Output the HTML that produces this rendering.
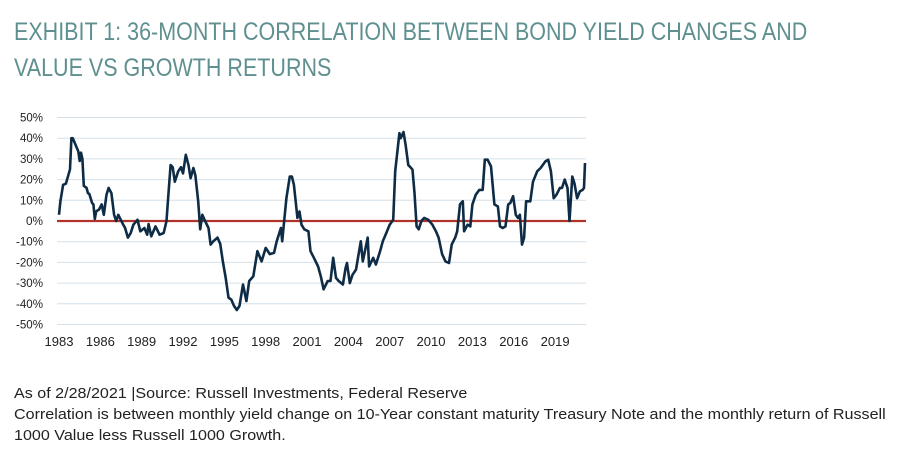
<!DOCTYPE html>
<html><head><meta charset="utf-8"><style>
body{margin:0;background:#fff;width:900px;height:460px;overflow:hidden;font-family:"Liberation Sans",sans-serif}
.title{position:absolute;left:14px;top:14px;font-size:25px;line-height:36px;color:#5f8f8f;font-weight:normal;margin:0;white-space:nowrap;transform:scaleX(0.86);transform-origin:0 0}
.note{position:absolute;left:14px;top:384px;font-size:14.5px;line-height:21px;color:#222;white-space:nowrap;transform:scaleX(1.11);transform-origin:0 0}
svg{position:absolute;left:0;top:0}
</style></head><body>
<h1 class="title">EXHIBIT 1: 36-MONTH CORRELATION BETWEEN BOND YIELD CHANGES AND<br>VALUE VS GROWTH RETURNS</h1>
<svg id="chart" width="900" height="460"></svg>
<div class="note">As of 2/28/2021 |Source: Russell Investments, Federal Reserve<br>Correlation is between monthly yield change on 10-Year constant maturity Treasury Note and the monthly return of Russell<br>1000 Value less Russell 1000 Growth.</div>
<script>
const years=[1983,1983.1,1983.3,1983.5,1983.8,1983.9,1984,1984.4,1984.5,1984.6,1984.7,1984.8,1985,1985.1,1985.2,1985.4,1985.5,1985.6,1985.7,1985.9,1986.1,1986.25,1986.45,1986.6,1986.8,1987,1987.15,1987.3,1987.6,1987.8,1988,1988.2,1988.4,1988.7,1988.9,1989.2,1989.4,1989.5,1989.7,1990,1990.3,1990.6,1990.8,1990.9,1991.1,1991.25,1991.4,1991.65,1991.85,1992,1992.2,1992.4,1992.55,1992.75,1992.9,1993.1,1993.25,1993.4,1993.6,1993.85,1994,1994.2,1994.5,1994.7,1994.9,1995.1,1995.3,1995.5,1995.7,1995.9,1996.1,1996.35,1996.6,1996.8,1997.1,1997.4,1997.7,1998,1998.3,1998.6,1998.8,1999.1,1999.2,1999.5,1999.75,1999.9,2000.05,2000.2,2000.3,2000.45,2000.6,2000.8,2001.1,2001.25,2001.5,2001.8,2002,2002.2,2002.5,2002.7,2002.9,2003.1,2003.3,2003.6,2003.8,2003.9,2004.1,2004.3,2004.55,2004.9,2005.05,2005.4,2005.5,2005.8,2006,2006.3,2006.5,2006.75,2007,2007.25,2007.4,2007.7,2007.8,2008,2008.15,2008.35,2008.5,2008.65,2008.8,2008.95,2009.1,2009.3,2009.5,2009.8,2010.1,2010.35,2010.55,2010.8,2011.05,2011.3,2011.5,2011.75,2011.9,2012.1,2012.3,2012.4,2012.65,2012.85,2013,2013.25,2013.5,2013.75,2013.9,2014.1,2014.35,2014.6,2014.85,2015,2015.2,2015.4,2015.6,2015.75,2015.95,2016.15,2016.3,2016.45,2016.6,2016.75,2016.9,2017.2,2017.4,2017.7,2017.95,2018.3,2018.5,2018.7,2018.9,2019.1,2019.35,2019.5,2019.7,2019.9,2020.05,2020.25,2020.4,2020.6,2020.8,2021,2021.1,2021.17];
const values=[3,9.5,17.5,18,25,40,40,33.6,29,33,30,17,16,13.5,13.1,8.7,8,1,4.7,5.5,8,3,12.7,16,13.5,3,0,3,-1,-3.4,-8,-5.8,-1.8,0.6,-5,-3.4,-6.6,-1.5,-7.4,-2.6,-6.6,-5.8,0,9.5,27,26,19,24,26,23,32,27,20.7,25.6,22,9.5,-4,3,0,-3.4,-11.4,-9.8,-8,-11,-20,-27.5,-37,-38,-41,-43,-41,-30.7,-38.7,-29,-26.7,-14.6,-19.5,-13,-16,-15.4,-9.8,-3.4,-9.8,11,21.5,21.5,17.5,8,1.5,4.6,-1.8,-4,-5,-14.6,-17.8,-22,-26.7,-33,-29,-29,-17.8,-27.5,-29,-30.7,-22.7,-20.3,-30,-26,-23.5,-9.8,-19.5,-8,-22,-17.8,-21,-14.6,-9.8,-5.8,-1.8,0.6,24,42.4,40,43,36.8,27,26,24.8,13.5,-2.6,-4,0,1.5,0.6,-1.8,-5,-8,-16,-19.5,-20.3,-11.4,-8,-5,8,9.5,-5,-1.8,-2.6,8,12.7,15,15,29.6,29.6,26.4,8,7,-2.6,-3.4,-2.6,8,8.7,12,3,1.5,3,-11.4,-8,9.5,9.5,19,24,25.6,28.8,29.6,24,11,12.7,16,16,20,16,0,21.5,18.3,11,14.3,15,16,28];
const yTicks=[50,40,30,20,10,0,-10,-20,-30,-40,-50];
const xTicks=[1983,1986,1989,1992,1995,1998,2001,2004,2007,2010,2013,2016,2019];
const NS="http://www.w3.org/2000/svg";
const svg=document.getElementById('chart');
const x=y=>59+(y-1983)*13.78;
const yv=v=>221-v*2.07;
function mk(t,a){const e=document.createElementNS(NS,t);for(const k in a)e.setAttribute(k,a[k]);svg.appendChild(e);return e;}
yTicks.forEach(t=>{
  const g=mk('line',{x1:57,x2:586,y1:yv(t),y2:yv(t),stroke:'#d5e0ea','stroke-width':1});
  
  
  const l=mk('text',{x:43,y:yv(t)+4,'text-anchor':'end','font-size':12,fill:'#222','textLength':t<0?27:(t===0?17:23),'lengthAdjust':'spacingAndGlyphs'});
  l.textContent=t+'%';
  
  
});
xTicks.forEach(t=>{
  const l=mk('text',{x:x(t),y:346,'text-anchor':'middle','font-size':13,fill:'#222','textLength':29,'lengthAdjust':'spacingAndGlyphs'});
  l.textContent=t;
  
  
});
const zl=mk('line',{x1:57,x2:586,y1:yv(0),y2:yv(0),stroke:'#b0342b','stroke-width':2.2});


const d=years.map((yr,i)=>(i?'L':'M')+x(yr).toFixed(1)+','+yv(values[i]).toFixed(1)).join('');
const p=mk('path',{d:d,fill:'none',stroke:'#0e2c45','stroke-width':2.6,'stroke-linejoin':'round'});


</script>
</body></html>
